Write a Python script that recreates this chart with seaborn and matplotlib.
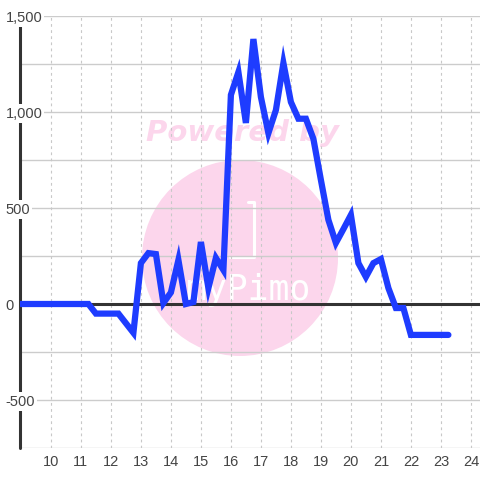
import numpy as np
import pandas as pd
import seaborn as sns
import matplotlib.pyplot as plt
from matplotlib.patches import Circle
from matplotlib.lines import Line2D

# readings every quarter hour
hours = [9.0, 9.25, 9.5, 9.75, 10.0, 10.25, 10.5, 10.75, 11.0, 11.25,
         11.5, 11.75, 12.0, 12.25, 12.5, 12.75, 13.0, 13.25, 13.5, 13.75,
         14.0, 14.25, 14.5, 14.75, 15.0, 15.25, 15.5, 15.75, 16.0, 16.25,
         16.5, 16.75, 17.0, 17.25, 17.5, 17.75, 18.0, 18.25, 18.5, 18.75,
         19.0, 19.25, 19.5, 19.75, 20.0, 20.25, 20.5, 20.75, 21.0, 21.25,
         21.5, 21.75, 22.0, 22.25, 22.5, 22.75, 23.0, 23.25]
values = [0, 0, 0, 0, 0, 0, 0, 0, 0, 0,
          -50, -50, -50, -50, -100, -150, 213, 265, 260, 5,
          60, 229, 0, 10, 323, 83, 240, 177, 1089, 1208,
          943, 1380, 1078, 890, 1010, 1255, 1052, 965, 965, 860,
          646, 438, 318, 390, 464, 213, 141, 213, 234, 83,
          -21, -21, -161, -161, -161, -161, -161, -161]

x_ticks = list(range(10, 25))
y_major = [-500, 0, 500, 1000, 1500]
y_labels = ["-500", "0", "500", "1,000", "1,500"]
y_grid = list(range(-750, 1501, 250))

df = pd.DataFrame({"hour": hours, "value": values})

sns.set_theme(style="white")
plt.rcParams['font.family'] = ['Liberation Sans', 'DejaVu Sans']

fig = plt.figure(figsize=(4.8, 4.8), dpi=100)
fig.patch.set_facecolor("white")
ax = fig.add_axes([20 / 480, 32 / 480, 460 / 480, 432 / 480])
ax.patch.set_alpha(0)

# watermark behind the axes
pink = "#fcd6ec"
fig.add_artist(Circle((240 / 480, 1 - 258 / 480), 98 / 480, transform=fig.transFigure,
                      facecolor=pink, edgecolor="none", zorder=-5))
fig.text(242 / 480, 1 - 133 / 480, "Powered by", color=pink, fontsize=21,
         fontweight="bold", fontstyle="italic", family="DejaVu Sans",
         ha="center", va="center", zorder=-4)
bx = np.array([230, 254, 254, 248]) / 480
by = 1 - np.array([257, 257, 202, 202]) / 480
fig.add_artist(Line2D(bx, by, transform=fig.transFigure, color="white", lw=2.2, zorder=-4))
fig.text(248 / 480, 1 - 290 / 480, "myPimo", color="white", fontsize=25,
         family="DejaVu Sans Mono", ha="center", va="center", zorder=-4)

x0 = 8.97

# grid
for yv in y_grid:
    ax.axhline(yv, color="#cccccc", lw=1, zorder=1)
for xv in x_ticks:
    ax.axvline(xv, color="#c8c8c8", lw=0.8, ls=(0, (2.5, 3)), zorder=1)
ax.axhline(0, color="#333333", lw=2.2, zorder=2)
ax.axvline(x0, color="#333333", lw=2.2, zorder=2, clip_on=False)

sns.lineplot(data=df, x="hour", y="value", ax=ax, color="#1e3cff", lw=4.5,
             zorder=3, solid_joinstyle="miter")

ax.set_xlim(x0, x0 + 460 / 30)
ax.set_ylim(-750, 1500)
ax.set_xticks(x_ticks)
ax.set_yticks(y_major)
ax.set_yticklabels(y_labels)
ax.set_xlabel("")
ax.set_ylabel("")
for s in ax.spines.values():
    s.set_visible(False)
ax.tick_params(axis="x", length=0, pad=5, labelsize=10.5, labelcolor="#444444")
ax.tick_params(axis="y", length=0, pad=10.5, labelsize=10.5, labelcolor="#444444")
for lbl in ax.get_yticklabels():
    lbl.set_ha("left")
    lbl.set_bbox(dict(facecolor="white", edgecolor="none", pad=1.5))
    lbl.set_zorder(5)
ax.yaxis.set_zorder(4)

fig.savefig("out.png", dpi=100)
